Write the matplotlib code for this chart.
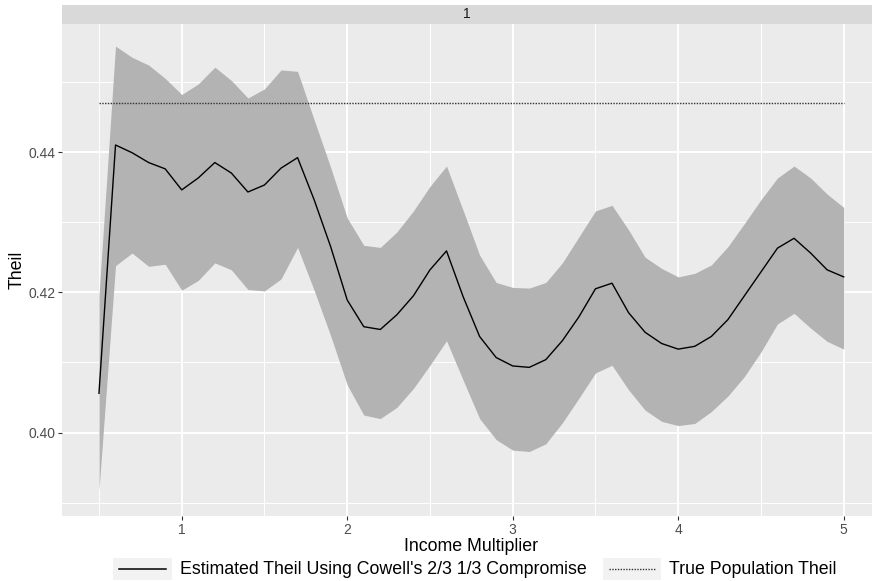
import numpy as np
import matplotlib
matplotlib.use('Agg')
import matplotlib.pyplot as plt
from matplotlib.patches import Rectangle
from matplotlib.lines import Line2D

plt.rcParams['font.family'] = ['Liberation Sans', 'DejaVu Sans']

# Data
income_mult = np.round(np.arange(5, 51) * 0.1, 1)
theil_est = [0.4056, 0.4410, 0.4399, 0.4385, 0.4376, 0.4346, 0.4363, 0.4385, 0.4370, 0.4343,
             0.4353, 0.4377, 0.4392, 0.4332, 0.4265, 0.4189, 0.4151, 0.4147, 0.4168, 0.4195,
             0.4232, 0.4259, 0.4194, 0.4137, 0.4107, 0.4095, 0.4093, 0.4104, 0.4131, 0.4165,
             0.4205, 0.4213, 0.4171, 0.4143, 0.4127, 0.4119, 0.4123, 0.4137, 0.4161, 0.4195,
             0.4229, 0.4263, 0.4277, 0.4256, 0.4232, 0.4222]
theil_upper = [0.4195, 0.4551, 0.4535, 0.4524, 0.4505, 0.4482, 0.4497, 0.4521, 0.4502, 0.4477,
               0.4490, 0.4517, 0.4515, 0.4446, 0.4378, 0.4306, 0.4267, 0.4264, 0.4286, 0.4316,
               0.4351, 0.4380, 0.4317, 0.4253, 0.4214, 0.4207, 0.4206, 0.4214, 0.4242, 0.4279,
               0.4316, 0.4324, 0.4289, 0.4250, 0.4234, 0.4222, 0.4227, 0.4239, 0.4265, 0.4298,
               0.4332, 0.4363, 0.4380, 0.4363, 0.4340, 0.4321]
theil_lower = [0.3918, 0.4238, 0.4256, 0.4237, 0.4240, 0.4203, 0.4217, 0.4242, 0.4232, 0.4204,
               0.4202, 0.4219, 0.4264, 0.4203, 0.4138, 0.4068, 0.4025, 0.4020, 0.4036, 0.4063,
               0.4096, 0.4131, 0.4075, 0.4020, 0.3990, 0.3975, 0.3973, 0.3984, 0.4014, 0.4049,
               0.4085, 0.4096, 0.4061, 0.4032, 0.4016, 0.4010, 0.4013, 0.4030, 0.4052, 0.4080,
               0.4115, 0.4155, 0.4170, 0.4149, 0.4130, 0.4119]
true_theil = 0.4470

strip_label = '1'
x_ticks = [1, 2, 3, 4, 5]
y_ticks = [0.40, 0.42, 0.44]
legend_labels = ["Estimated Theil Using Cowell's 2/3 1/3 Compromise", 'True Population Theil']

W, H = 872, 581
fig = plt.figure(figsize=(W / 100, H / 100), dpi=100)


def fx(px):
    return px / W


def fy(py):
    return 1 - py / H


# panel
ax = fig.add_axes([fx(62), fy(516), fx(872 - 62), (516 - 24) / H])
ax.set_facecolor('#EBEBEB')
for s in ax.spines.values():
    s.set_visible(False)

ax.fill_between(income_mult, theil_lower, theil_upper, color='#B3B3B3', linewidth=0, zorder=2)
ax.plot(income_mult, theil_est, color='black', linewidth=1.0, zorder=3)
ax.plot([income_mult[0], income_mult[-1]], [true_theil, true_theil], color='#333333',
        linewidth=1.0, linestyle=(0, (1, 1)), zorder=3)

ax.set_xlim(0.2766, 5.171)
ax.set_ylim(0.38811, 0.45825)
ax.set_xticks(x_ticks)
ax.set_xticklabels([str(t) for t in x_ticks])
ax.set_yticks(y_ticks)
ax.set_yticklabels([f'{t:.2f}' for t in y_ticks])
ax.set_xticks([0.5, 1.5, 2.5, 3.5, 4.5], minor=True)
ax.set_yticks([0.39, 0.41, 0.43, 0.45], minor=True)
ax.grid(which='major', color='white', linewidth=1.4)
ax.grid(which='minor', color='white', linewidth=0.7)
ax.set_axisbelow(True)
ax.tick_params(which='major', length=3.2, width=0.8, color='#333333',
               labelcolor='#4D4D4D', labelsize=10, pad=1.5)
ax.tick_params(which='minor', length=0)

ax.set_xlabel('Income Multiplier', fontsize=12.8, color='black', labelpad=1)
ax.xaxis.label.set_x(0.505)
ax.set_ylabel('Theil', fontsize=12.8, color='black', labelpad=2)

# facet strip
strip = fig.add_axes([fx(62), fy(24), fx(872 - 62), (24 - 5) / H])
strip.set_facecolor('#D9D9D9')
strip.set_xticks([])
strip.set_yticks([])
for s in strip.spines.values():
    s.set_visible(False)
strip.text(0.5, 0.5, strip_label, ha='center', va='center', fontsize=10, color='#1A1A1A',
           transform=strip.transAxes)

# legend (drawn by hand to get the ggplot key boxes)
key_y = 569
keys = [(113, 172, 180, '-'), (603, 661, 669, (0, (1, 1)))]
for (k0, k1, tx, ls), lab in zip(keys, legend_labels):
    fig.patches.append(Rectangle((fx(k0), fy(580)), fx(k1 - k0), (580 - 558) / H,
                                 transform=fig.transFigure, facecolor='#F2F2F2',
                                 edgecolor='none'))
    fig.lines.append(Line2D([fx(k0 + 6), fx(k1 - 6)], [fy(key_y), fy(key_y)],
                            transform=fig.transFigure, color='black' if ls == '-' else '#333333',
                            linewidth=1.1 if ls == '-' else 1.0, linestyle=ls))
    fig.text(fx(tx), fy(key_y), lab, ha='left', va='center', fontsize=12.8, color='black')

plt.savefig('out.png', dpi=100)
plt.close()
